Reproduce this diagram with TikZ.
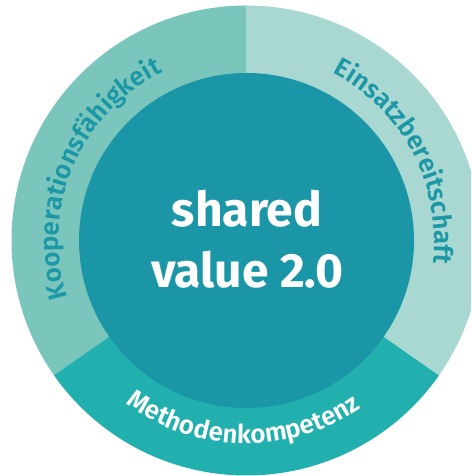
\documentclass[tikz,border=0pt]{standalone}
\usepackage{fontspec}
\setmainfont{Fira Sans}
\newfontfamily\ringfont{Fira Sans SemiBold}
\usetikzlibrary{decorations.text}
\definecolor{segL}{HTML}{7AC6BD}
\definecolor{segR}{HTML}{A9D8D3}
\definecolor{segB}{HTML}{21B0AE}
\definecolor{core}{HTML}{1A96A6}
\definecolor{ringtext}{HTML}{1B97A6}
\tikzset{
  ringlabel/.style={decorate, decoration={text along path, text align=center, text={#1}}},
  coretext/.style={font=\fontsize{48}{48}\selectfont\bfseries, text=white, anchor=base, inner sep=0pt}
}
\begin{document}
\begin{tikzpicture}[x=1pt,y=1pt]
\useasboundingbox (0,0) rectangle (471,476);
\clip (0,0) rectangle (471,476);
\fill[white] (0,0) rectangle (471,476);
\coordinate (C) at (246.5,235.5);
\fill[segL] (C) -- ([shift={(C)}]90:235pt) arc[start angle=90,end angle=215,radius=235pt] -- cycle;
\fill[segB] (C) -- ([shift={(C)}]215:235pt) arc[start angle=215,end angle=325,radius=235pt] -- cycle;
\fill[segR] (C) -- ([shift={(C)}]325:235pt) arc[start angle=-35,end angle=90,radius=235pt] -- cycle;
\fill[core] (C) circle[radius=167.5pt];
\path[ringlabel={|\ringfont\fontsize{26}{26}\selectfont\color{ringtext}|Kooperationsfähigkeit}]
  ([shift={(C)}]217:188pt) arc[start angle=217,end angle=97,radius=188pt];
\path[ringlabel={|\ringfont\fontsize{26}{26}\selectfont\color{ringtext}|Einsatzbereitschaft}]
  ([shift={(C)}]88:188pt) arc[start angle=88,end angle=-32,radius=188pt];
\path[ringlabel={|\ringfont\fontsize{26}{26}\selectfont\color{white}|Methodenkompetenz}]
  ([shift={(C)}]209:203pt) arc[start angle=209,end angle=329,radius=203pt];
\node[coretext] (t1) at (247,249) {shared};
\node[coretext] (t2) at (247.5,188) {value 2.0};
\end{tikzpicture}
\end{document}
